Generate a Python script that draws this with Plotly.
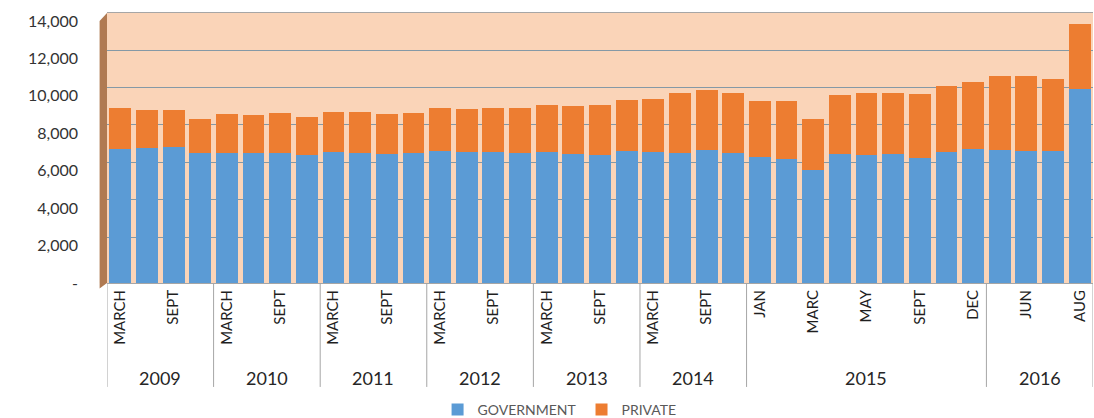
import plotly.graph_objects as go

years = ["2009", "2010", "2011", "2012", "2013", "2014", "2015", "2016"]
months_per_year = [
    ["MARCH", "JUNE", "SEPT", "DEC"],
    ["MARCH", "JUNE", "SEPT", "DEC"],
    ["MARCH", "JUNE", "SEPT", "DEC"],
    ["MARCH", "JUNE", "SEPT", "DEC"],
    ["MARCH", "JUNE", "SEPT", "DEC"],
    ["MARCH", "JUNE", "SEPT", "DEC"],
    ["JAN", "FEB", "MARC", "APR", "MAY", "JUNE", "SEPT", "OCT", "DEC"],
    ["MAR", "JUN", "JUL", "AUG"],
]
government = [7160, 7210, 7270, 6950, 6950, 6950, 6950, 6840, 7000, 6950, 6890, 6950,
              7050, 7000, 7000, 6950, 7000, 6890, 6840, 7050, 7000, 6950, 7110, 6950,
              6730, 6630, 6040, 6890, 6840, 6890, 6680, 7000, 7160, 7110, 7050, 7050,
              10370]
private = [2190, 2040, 1980, 1810, 2080, 2030, 2140, 2030, 2140, 2190, 2140, 2140,
           2300, 2300, 2350, 2400, 2510, 2570, 2670, 2730, 2830, 3200, 3200, 3200,
           3000, 3100, 2720, 3160, 3310, 3260, 3420, 3530, 3580, 3950, 4010, 3850,
           3470]
y_ticks = [0, 2000, 4000, 6000, 8000, 10000, 12000, 14000]
y_ticktext = ["-", "2,000", "4,000", "6,000", "8,000", "10,000", "12,000", "14,000"]

months = [m for grp in months_per_year for m in grp]
xs = list(range(len(months)))

FONT = "Lato"
BLUE = "#5B9BD5"
ORANGE = "#ED7D31"

fig = go.Figure()
# empty helper trace so the (offset, 3D-like) back-wall gridline axis is drawn
fig.add_trace(go.Scatter(x=[], y=[], yaxis="y2", showlegend=False, hoverinfo="skip"))
fig.add_trace(go.Bar(x=xs, y=government, name="GOVERNMENT", marker=dict(color=BLUE, line=dict(width=0))))
fig.add_trace(go.Bar(x=xs, y=private, name="PRIVATE", marker=dict(color=ORANGE, line=dict(width=0))))

tickvals = xs[::2]
ticktext = [months[i] for i in tickvals]

shapes = []
annotations = []
start = 0
bounds = [-0.5]
for yr, grp in zip(years, months_per_year):
    end = start + len(grp)
    bounds.append(end - 0.5)
    annotations.append(dict(x=(start + end - 1) / 2, y=-0.352, xref="x", yref="paper",
                            text=yr, showarrow=False, yanchor="middle",
                            font=dict(family=FONT, size=18, color="#262626")))
    start = end
for b in bounds:
    shapes.append(dict(type="line", xref="x", yref="paper", x0=b, x1=b, y0=0, y1=-0.385,
                       line=dict(color="#A6A6A6", width=1)))

# left side wall of the 3D chart
shapes.append(dict(type="path", xref="paper", yref="paper",
                   path="M -0.0075,0.97 L 0.0,1.0 L 0.0,0.0 L -0.0075,-0.02 Z",
                   fillcolor="#B07A52", line=dict(width=0), layer="below"))

fig.update_layout(
    width=1094, height=418,
    margin=dict(l=107, r=1, t=13, b=135, autoexpand=False),
    paper_bgcolor="white",
    plot_bgcolor="#FAD4B8",
    barmode="stack",
    bargap=0.18,
    font=dict(family=FONT, color="#262626"),
    showlegend=True,
    legend=dict(orientation="h", x=0.459, xanchor="center", y=-0.47, yanchor="middle",
                font=dict(family=FONT, size=14, color="#595959"),
                itemwidth=30, traceorder="normal", bgcolor="rgba(0,0,0,0)"),
    xaxis=dict(range=[-0.5, len(months) - 0.5], tickmode="array", tickvals=tickvals,
               ticktext=ticktext, tickangle=-90, showgrid=False, zeroline=False,
               showline=True, linecolor="#A6A6A6", linewidth=1, mirror=True,
               ticks="", tickfont=dict(family=FONT, size=15, color="#1f1f1f")),
    yaxis=dict(range=[0, 14430], tickmode="array", tickvals=y_ticks, ticktext=y_ticktext,
               showgrid=False, zeroline=False, showline=False, ticks="",
               ticklabelstandoff=28, tickfont=dict(family=FONT, size=16, color="#333333")),
    yaxis2=dict(overlaying="y", range=[-450, 13980], tickmode="array", tickvals=y_ticks[1:],
                showticklabels=False, showgrid=True, gridcolor="#8499A6", gridwidth=1,
                zeroline=False, showline=False, ticks=""),
    shapes=shapes,
    annotations=annotations,
)

fig.write_html("out.html", config={"displayModeBar": False},
               post_script="document.body.style.margin='0';")
